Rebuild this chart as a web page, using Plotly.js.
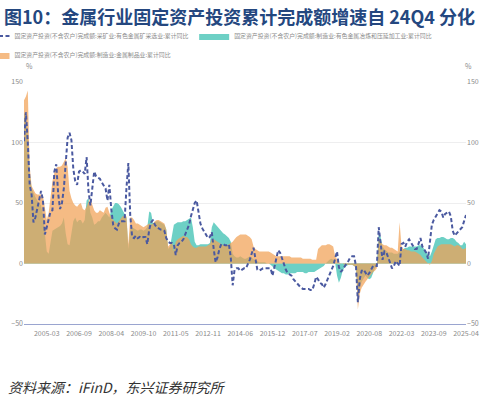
<!DOCTYPE html>
<html>
<head>
<meta charset="utf-8">
<script src="https://cdn.plot.ly/plotly-3.0.1.min.js"></script>
<style>html,body{margin:0;padding:0;background:#fff;}#chart{width:492px;height:400px;}</style>
</head>
<body>
<div id="chart"></div>
<script>
// Categories: monthly, January not published (cumulative data), 2004-02 .. 2025-04
const firstYear = 2004, lastYear = 2025, lastMonth = 4;
const months = [];
for (let y = firstYear; y <= lastYear; y++) {
  for (let m = 2; m <= 12; m++) {
    if (y === lastYear && m > lastMonth) break;
    months.push(y + '-' + (m < 10 ? '0' + m : '' + m));
  }
}
const tickLabels = ["2005-03","2006-09","2008-04","2009-10","2011-05","2012-11","2014-06","2015-12","2017-07","2019-02","2020-08","2022-03","2023-09","2025-04"];

const seriesNames = [
  "固定资产投资(不含农户)完成额:采矿业:有色金属矿采选业:累计同比",
  "固定资产投资(不含农户)完成额:制造业:有色金属冶炼和压延加工业:累计同比",
  "固定资产投资(不含农户)完成额:制造业:金属制品业:累计同比"
];

// 采矿业:有色金属矿采选业 (dashed line)
const miningNonferrous = [
  101,125,100,65,57,34,38,45,52,60,
  52,24,30,38,43,44,76,82,58,45,
  50,62,87,104,108,102,78,68,65,76,
  77,76,74,88,60,48,62,76,72,71,
  70,67,65,62,52,65,45,32,29,28,
  33,35,35,35,62,83,40,22,21,23,
  21,22,21,22,22,16,28,34,36,32,
  30,29,28,28,27,21,18,17,17,16,
  7,15,17,18,20,24,28,32,39,45,
  50,52,42,33,29,26,24,21,22,26,
  12,1,5,12,16,16,15,15,16,5,
  -18,-5,-4,-4,-6,-5,-4,-4,-1,3,
  8,13,4,-5,-6,-5,-4,-4,-4,-4,
  -4,-10,-2,6,11,9,4,-2,-5,-8,
  -9,-10,-13,-15,-17,-18,-20,-21,-21,-21,
  -21,-22,-22,-17,-11,-13,-16,-17,-20,-17,
  -13,-9,-5,-2,4,10,-3,-7,-5,-2,
  0,2,5,6,6,-2,-32,-13,-6,-5,
  -7,-10,-8,-5,-2,-2,-2,30,17,3,
  10,9,5,1,-4,-2,2,0,-2,16,
  17,14,18,20,17,14,12,12,16,21,
  14,11,9,4,20,32,36,39,42,44,
  43,38,41,42,43,39,27,23,25,27,
  28,30,35,40
];

// 制造业:有色金属冶炼和压延加工业 (teal area)
const smeltingRolling = [
  125,120,110,75,62,58,55,52,50,48,
  40,25,10,8,18,27,28,29,30,31,
  33,38,25,16,15,25,35,38,34,36,
  36,33,36,52,54,42,38,32,33,35,
  35,38,40,42,40,38,44,47,50,50,
  49,47,44,40,38,12,28,30,29,28,
  27,28,28,27,28,30,43,42,33,34,
  35,35,34,33,32,28,12,14,22,32,
  33,34,34,34,35,35,36,37,38,30,
  18,15,15,16,16,16,16,16,17,30,
  34,32,30,28,26,25,24,22,21,18,
  8,6,5,5,6,5,4,4,5,6,
  5,3,2,2,1,1,1,1,0,0,
  -1,-3,-4,-5,-6,-7,-8,-8,-9,-9,
  -8,-8,-8,-8,-7,-7,-7,-7,-8,-8,
  -7,-7,-7,-7,-6,-5,-4,-3,-2,0,
  2,3,4,3,1,-10,-16,-12,-6,-3,
  -2,-1,-1,-1,-2,-3,-30,-20,-15,-12,
  -10,-12,-13,-12,-8,-4,-2,26,22,14,
  12,10,9,9,9,8,8,8,10,11,
  12,13,13,14,14,14,14,14,15,15,
  14,12,10,7,6,10,16,20,21,21,
  22,22,21,20,20,21,21,20,18,17,
  15,15,18,16
];

// 制造业:金属制品业 (orange area)
const metalProducts = [
  135,138,143,80,64,61,58,57,57,57,
  56,45,36,42,55,68,75,79,80,80,
  81,84,87,80,60,54,50,48,47,49,
  50,45,44,47,51,53,48,44,42,42,
  44,43,42,46,47,42,38,36,34,33,
  35,37,39,39,39,16,38,38,36,33,
  33,32,31,30,31,32,33,32,33,35,
  36,36,35,34,33,28,14,16,18,10,
  18,20,21,22,23,22,22,20,16,14,
  13,13,14,14,14,14,14,15,16,20,
  20,19,18,17,16,15,15,15,16,17,
  18,20,22,23,24,24,24,24,23,22,
  20,14,12,11,10,10,10,10,10,10,
  9,8,7,6,6,6,6,6,6,6,
  6,5,5,5,5,5,5,4,4,4,
  4,4,3,3,3,12,14,15,15,15,
  16,16,15,14,6,3,1,0,0,-1,
  -1,-1,-1,-1,-2,-3,-38,-25,-20,-17,
  -15,-13,-11,-9,-7,-6,-4,22,18,16,
  15,15,14,13,13,12,11,10,34,14,
  12,12,11,11,10,10,10,9,8,7,
  5,3,1,0,-1,2,8,11,14,15,
  16,16,16,16,16,16,15,14,15,15,
  14,12,12,13
];

const font = "'Noto Sans CJK SC', 'Noto Sans', sans-serif";

const traces = [
  {
    x: months, y: miningNonferrous, name: seriesNames[0], yaxis: 'y2',
    type: 'scatter', mode: 'lines', legend: 'legend',
    line: {color: '#4a59a0', width: 2, dash: '4px,2.5px'}
  },
  {
    x: months, y: smeltingRolling, name: seriesNames[1],
    type: 'scatter', mode: 'lines', fill: 'tozeroy', legend: 'legend2',
    line: {width: 0, color: 'rgb(109,208,197)'},
    fillcolor: 'rgb(109,208,197)'
  },
  {
    x: months, y: metalProducts, name: seriesNames[2],
    type: 'scatter', mode: 'lines', fill: 'tozeroy', legend: 'legend',
    line: {width: 0, color: 'rgba(241,162,87,0.73)'},
    fillcolor: 'rgba(241,162,87,0.73)'
  }
];

const tickFont = {family: font, size: 7, color: '#8a8a8a'};
const legendFont = {family: font, size: 5.9, color: '#8a8a8a'};

const layout = {
  width: 492, height: 400,
  margin: {l: 24, r: 26, t: 82, b: 76, pad: 0, autoexpand: false},
  paper_bgcolor: '#ffffff', plot_bgcolor: '#ffffff',
  font: {family: font, size: 7, color: '#888'},
  title: {
    text: '图10：金属行业固定资产投资累计完成额增速自 24Q4 分化',
    font: {family: font, size: 18, color: '#24477f', weight: 700},
    xref: 'container', yref: 'container',
    x: 0.008, xanchor: 'left', y: 0.957, yanchor: 'middle'
  },
  showlegend: true,
  legend: {
    orientation: 'v', x: -0.112, xanchor: 'left', y: 1.25, yanchor: 'top',
    font: legendFont, traceorder: 'normal', bgcolor: 'rgba(0,0,0,0)',
    itemwidth: 30, tracegroupgap: 0
  },
  legend2: {
    orientation: 'v', x: 0.385, xanchor: 'left', y: 1.25, yanchor: 'top',
    font: legendFont, traceorder: 'normal', bgcolor: 'rgba(0,0,0,0)',
    itemwidth: 30
  },
  xaxis: {
    type: 'category', range: [0, months.length - 1],
    tickmode: 'array', tickvals: tickLabels, ticktext: tickLabels,
    tickangle: 0, ticks: '', showgrid: false, zeroline: false,
    showline: true, linecolor: '#9aa5d0', linewidth: 1.2,
    ticklabelstandoff: 2,
    tickfont: tickFont, fixedrange: true
  },
  yaxis: {
    range: [-50, 150], dtick: 50, tick0: 0, ticks: '',
    showgrid: true, gridcolor: '#eeeeef', gridwidth: 1,
    zeroline: true, zerolinecolor: '#e8dcc6', zerolinewidth: 1,
    showline: false, tickfont: tickFont, fixedrange: true
  },
  yaxis2: {
    range: [-50, 150], dtick: 50, tick0: 0, ticks: '',
    overlaying: 'y', side: 'right', showgrid: false, zeroline: false,
    showline: false, tickfont: tickFont, fixedrange: true
  },
  annotations: [
    {text: '%', xref: 'paper', yref: 'paper', x: 0.0, y: 1.066, xanchor: 'left', yanchor: 'middle', showarrow: false, font: {family: font, size: 7, color: '#8a8a8a'}},
    {text: '%', xref: 'paper', yref: 'paper', x: 0.993, y: 1.066, xanchor: 'left', yanchor: 'middle', showarrow: false, font: {family: font, size: 7, color: '#8a8a8a'}},
    {text: '<i>资料来源：iFinD，东兴证券研究所</i>', xref: 'paper', yref: 'paper', x: -0.04, y: -0.26, xanchor: 'left', yanchor: 'middle', showarrow: false, font: {family: font, size: 14, color: '#333333'}}
  ]
};

Plotly.newPlot('chart', traces, layout, {staticPlot: true, displayModeBar: false});
</script>
</body>
</html>
